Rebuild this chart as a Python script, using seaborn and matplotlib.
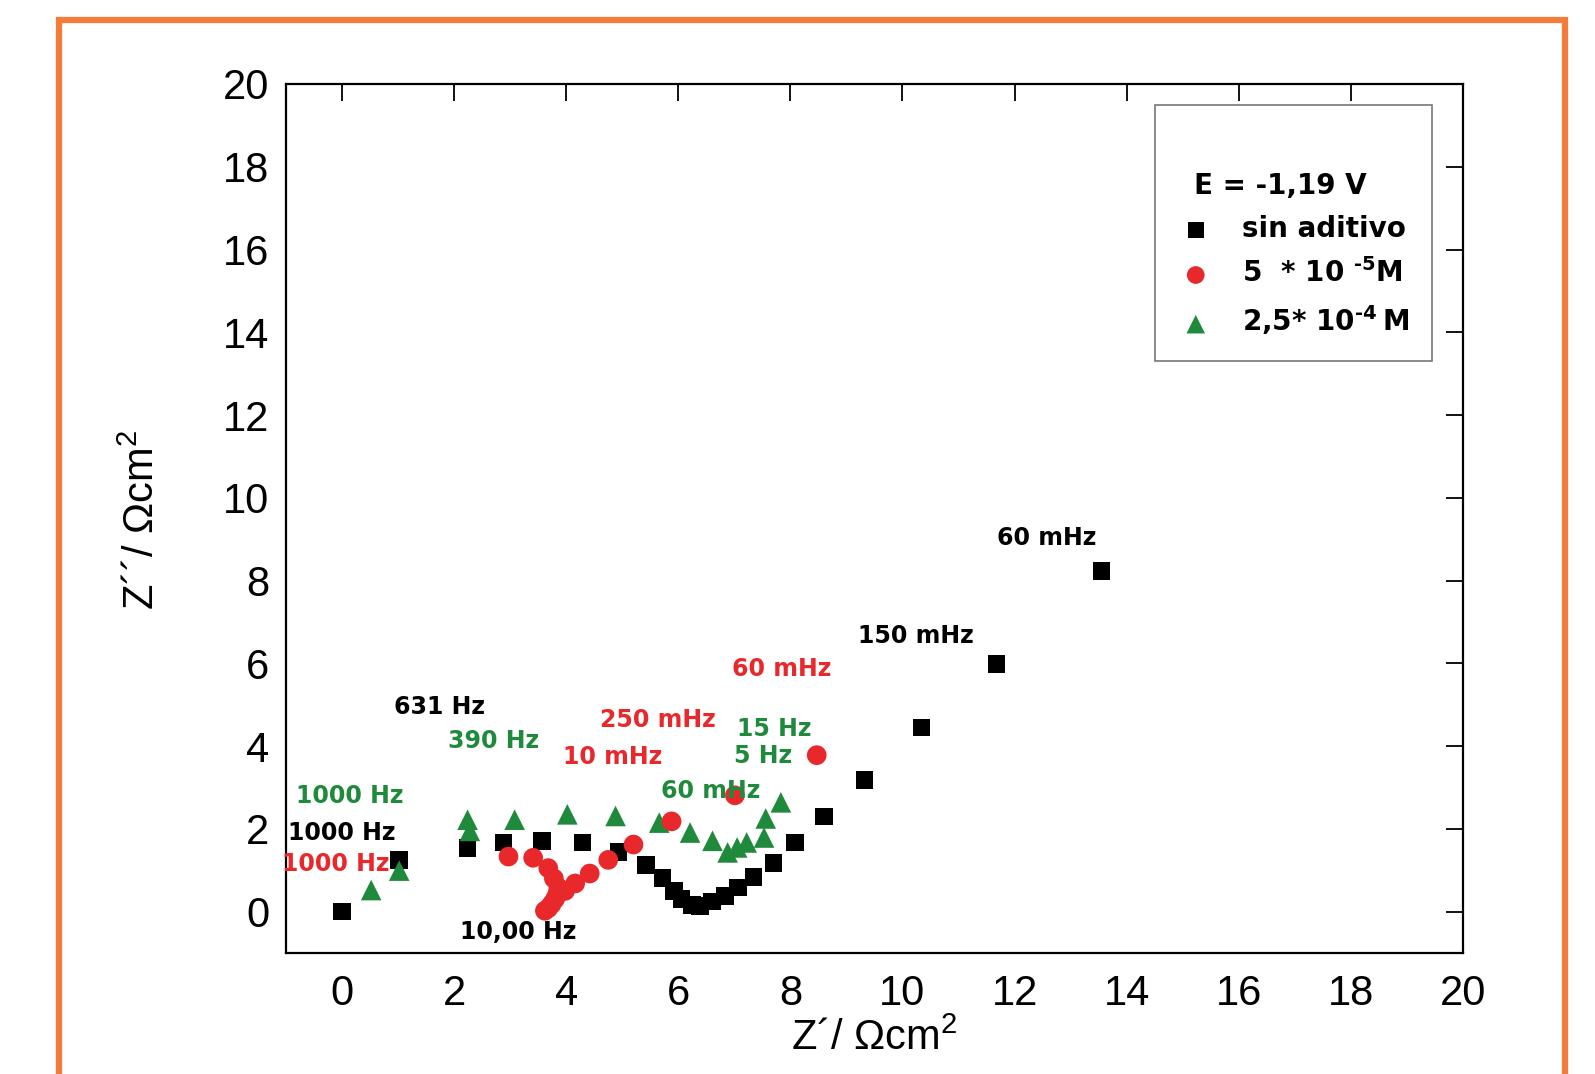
import matplotlib
matplotlib.use("Agg")
import matplotlib.pyplot as plt
from matplotlib.patches import Rectangle
import pandas as pd
import seaborn as sns

# --- datos (Nyquist, E = -1,19 V) ---
sin_x = [0, 1.02, 2.24, 2.88, 3.57, 4.29, 4.93, 5.42, 5.72, 5.92, 6.06, 6.24,
         6.39, 6.60, 6.83, 7.07, 7.34, 7.70, 8.08, 8.60, 9.32, 10.34, 11.68, 13.55]
sin_y = [0, 1.24, 1.53, 1.67, 1.71, 1.67, 1.44, 1.12, 0.81, 0.50, 0.30, 0.16,
         0.14, 0.24, 0.38, 0.58, 0.83, 1.17, 1.67, 2.30, 3.18, 4.45, 5.98, 8.23]

r5_x = [2.97, 3.41, 3.68, 3.78, 3.86, 3.84, 3.80, 3.74, 3.68, 3.62, 3.98,
        4.16, 4.42, 4.75, 5.20, 5.88, 7.01, 8.47]
r5_y = [1.33, 1.30, 1.05, 0.80, 0.58, 0.42, 0.30, 0.18, 0.08, 0.02, 0.50,
        0.68, 0.92, 1.25, 1.62, 2.18, 2.81, 3.78]

g25_x = [0.52, 1.02, 2.28, 2.24, 3.08, 4.02, 4.88, 5.66, 6.21, 6.61, 6.88,
         7.05, 7.22, 7.53, 7.56, 7.83]
g25_y = [0.52, 0.99, 1.95, 2.22, 2.22, 2.35, 2.31, 2.15, 1.91, 1.71, 1.43,
         1.55, 1.67, 1.79, 2.25, 2.64]

# etiquetas de frecuencia
ann_text = ["631 Hz", "390 Hz", "1000 Hz", "1000 Hz", "1000 Hz", "10,00 Hz",
            "250 mHz", "10 mHz", "60 mHz", "15 Hz", "5 Hz", "60 mHz",
            "150 mHz", "60 mHz"]
ann_x = [0.93, 1.89, -0.82, -0.96, -1.07, 2.10, 4.61, 3.94, 5.70, 7.04, 7.00,
         6.95, 9.20, 11.69]
ann_y = [4.94, 4.13, 2.80, 1.89, 1.15, -0.49, 4.62, 3.73, 2.92, 4.42, 3.76,
         5.87, 6.66, 9.04]
ann_serie = ["sin", "g25", "g25", "sin", "r5", "sin", "r5", "r5", "g25",
             "g25", "g25", "r5", "sin", "sin"]

ticks = list(range(0, 21, 2))

NEGRO = "#000000"
ROJO = "#e8282b"
VERDE = "#208a3c"
NARANJA = "#f47c38"
colores = {"sin": NEGRO, "r5": ROJO, "g25": VERDE}
fuente_negrita = ["DejaVu Sans"]

sns.set_style("white")
plt.rcParams["font.family"] = ["Liberation Sans", "DejaVu Sans"]
plt.rcParams["text.color"] = "black"
plt.rcParams["axes.labelcolor"] = "black"
plt.rcParams["mathtext.fontset"] = "custom"
plt.rcParams["mathtext.rm"] = "Liberation Sans"
plt.rcParams["mathtext.default"] = "regular"

df_sin = pd.DataFrame({"x": sin_x, "y": sin_y})
df_r5 = pd.DataFrame({"x": r5_x, "y": r5_y})
df_g25 = pd.DataFrame({"x": g25_x, "y": g25_y})

fig = plt.figure(figsize=(15.95, 10.74), dpi=100)
ax = fig.add_axes([0.1793, 0.1127, 0.7379, 0.8091])

# marco naranja
fig.patches.append(Rectangle((0.0370, -0.2), 0.9445, 1.1813, transform=fig.transFigure,
                             fill=False, edgecolor=NARANJA, linewidth=4.5, zorder=0))

sns.scatterplot(data=df_sin, x="x", y="y", ax=ax, marker="s", s=160, color=NEGRO,
                edgecolor="none", label="sin aditivo", zorder=3)
sns.scatterplot(data=df_r5, x="x", y="y", ax=ax, marker="o", s=200, color=ROJO,
                edgecolor="none", label="5  * 10 ${}^{\u20105}$M", zorder=4)
sns.scatterplot(data=df_g25, x="x", y="y", ax=ax, marker="^", s=220, color=VERDE,
                edgecolor="none", label="2,5* 10${}^{\u20104}$\u2009M", zorder=3)

for t, x, y, s in zip(ann_text, ann_x, ann_y, ann_serie):
    ax.text(x, y, t, color=colores[s], fontsize=17, fontweight="bold",
            family=fuente_negrita, ha="left", va="center", zorder=5)

ax.set_xlim(-1, 20)
ax.set_ylim(-1, 20)
ax.set_xticks(ticks)
ax.set_yticks(ticks)
ax.tick_params(direction="in", length=12, width=1.3, labelsize=30,
               top=True, right=True, colors="black")
ax.tick_params(axis="x", pad=15.5)
ax.tick_params(axis="y", pad=12)
for sp in ax.spines.values():
    sp.set_linewidth(1.6)
    sp.set_color("black")

ax.set_xlabel("Z´/ Ωcm$^2$", fontsize=30)
ax.set_ylabel("Z´´/ Ωcm$^2$", fontsize=30)
ax.xaxis.set_label_coords(0.5, -0.075)
ax.yaxis.set_label_coords(-0.1045, 0.498)

leg = ax.legend(loc="upper right", bbox_to_anchor=(0.974, 0.976), borderaxespad=0,
                title="\n \u2009E = -1,19 V",
                title_fontproperties={"weight": "bold", "size": 20, "family": fuente_negrita},
                prop={"weight": "bold", "size": 20, "family": fuente_negrita},
                alignment="left", frameon=True, fancybox=False, edgecolor="#555555",
                handlelength=1.2, handletextpad=1.05, labelspacing=0.55, borderpad=0.85,
                markerscale=0.9)
leg.get_frame().set_linewidth(1.2)
leg.get_title().set_linespacing(1.7)
for txt in leg.get_texts():
    txt.set_color("black")

fig.savefig("out.png", dpi=100, facecolor="white")
